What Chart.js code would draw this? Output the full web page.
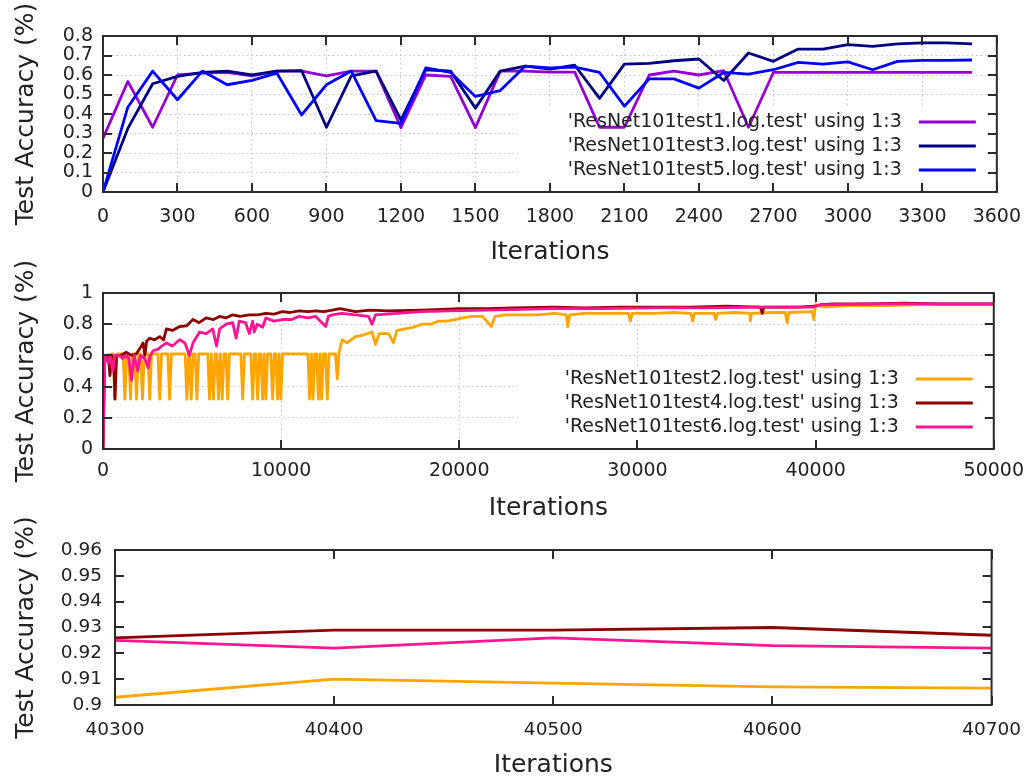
<!DOCTYPE html>
<html>
<head>
<meta charset="utf-8">
<script src="https://cdn.jsdelivr.net/npm/chart.js@4.4.1/dist/chart.umd.min.js"></script>
<style>
  body { margin: 0; background: #fff; overflow: hidden; }
  canvas { position: absolute; left: 0; }
</style>
</head>
<body>
<canvas id="c1" width="1035" height="268" style="top:0px"></canvas>
<canvas id="c2" width="1035" height="273" style="top:250px"></canvas>
<canvas id="c3" width="1035" height="282" style="top:500px"></canvas>
<script>
// ---- top panel: tests 1/3/5, one test every 100 iterations ----
const itersTop = [0,100,200,300,400,500,600,700,800,900,1000,1100,1200,1300,1400,1500,1600,1700,1800,
                  1900,2000,2100,2200,2300,2400,2500,2600,2700,2800,2900,3000,3100,3200,3300,3400,3500];
const test1Acc = [0.275,0.567,0.332,0.60,0.61,0.613,0.595,0.62,0.62,0.596,0.62,0.62,0.33,0.60,0.593,0.33,0.62,0.62,0.615,
                  0.615,0.332,0.332,0.60,0.62,0.60,0.622,0.332,0.613,0.613,0.613,0.613,0.613,0.613,0.613,0.613,0.613];
const test3Acc = [0,0.326,0.555,0.593,0.613,0.62,0.60,0.62,0.622,0.332,0.596,0.62,0.37,0.627,0.62,0.43,0.62,0.645,0.63,
                  0.65,0.48,0.656,0.66,0.673,0.682,0.572,0.713,0.67,0.733,0.733,0.756,0.747,0.76,0.765,0.765,0.76];
const test5Acc = [0,0.435,0.62,0.473,0.62,0.55,0.572,0.61,0.395,0.55,0.62,0.366,0.352,0.636,0.613,0.49,0.52,0.645,0.636,
                  0.64,0.613,0.44,0.58,0.58,0.533,0.613,0.605,0.627,0.665,0.656,0.667,0.627,0.67,0.675,0.675,0.677];

// ---- middle panel: tests 2/4/6 over the full 50000 iterations ----
const test2Iter = [0,100,570,670,770,1130,1230,1330,1445,1545,1645,1780,1880,1980,2115,2215,2315,2525,2625,2725,
  3085,3185,3285,3640,3740,3840,4610,4710,4810,4850,4950,5050,5170,5270,5370,5880,5980,6080,6100,6200,6300,
  6380,6480,6580,6590,6690,6790,6900,7000,7100,7740,7840,7940,8300,8400,8500,8580,8680,8780,8860,8960,9050,
  9140,9240,9420,9520,9620,9700,9800,9890,9980,10080,11500,11600,11700,11790,11890,11990,12090,12180,12270,
  12370,12490,12590,12690,13050,13150,13250,13430,13700,14170,14600,15100,15300,15500,16030,16300,16500,
  16960,17400,17900,18400,18830,19300,19760,20200,20690,21300,21800,22000,22600,23480,24400,25340,26000,
  26090,26200,27000,28000,29500,29600,29700,31000,32000,33000,33100,33200,34300,34380,34500,35500,36300,
  36340,36400,37500,38300,38400,38500,39800,39900,40000,40400,41000,42000,44000,46000,48000,50000];
const test2Acc = [0,0.60,0.61,0.32,0.61,0.61,0.32,0.61,0.61,0.32,0.61,0.61,0.32,0.61,0.61,0.32,0.61,0.61,0.32,0.61,
  0.61,0.32,0.61,0.61,0.32,0.61,0.61,0.32,0.61,0.61,0.32,0.61,0.61,0.32,0.61,0.61,0.32,0.61,0.61,0.32,0.61,
  0.61,0.32,0.61,0.61,0.32,0.61,0.61,0.32,0.61,0.61,0.32,0.61,0.61,0.32,0.61,0.61,0.32,0.61,0.61,0.32,0.61,
  0.32,0.61,0.61,0.32,0.61,0.61,0.32,0.61,0.32,0.61,0.61,0.32,0.61,0.32,0.61,0.61,0.32,0.61,0.32,
  0.61,0.61,0.32,0.61,0.61,0.45,0.62,0.70,0.68,0.72,0.73,0.75,0.67,0.74,0.74,0.68,0.76,
  0.77,0.78,0.80,0.80,0.82,0.82,0.83,0.84,0.85,0.85,0.785,0.85,0.86,0.86,0.86,0.87,0.86,
  0.785,0.86,0.87,0.87,0.87,0.82,0.87,0.87,0.875,0.87,0.82,0.87,0.87,0.83,0.87,0.875,0.87,
  0.82,0.87,0.875,0.875,0.81,0.875,0.88,0.83,0.925,0.91,0.915,0.92,0.92,0.925,0.925,0.925];

const test4Iter = [0,100,300,390,500,600,670,760,1000,1300,1600,1880,2100,2250,2350,2450,2625,2900,3185,3400,
  3560,3900,4300,4700,5050,5400,5790,6200,6540,6900,7280,7700,8210,8700,9140,9600,10070,10500,11000,11500,
  11940,12400,12870,13300,14170,15000,16000,17900,19000,20000,21620,23000,25340,27000,29000,31000,33000,
  35000,36900,37000,37100,39000,40000,40300,41000,43000,45000,47000,50000];
const test4Acc = [0,0.60,0.60,0.47,0.60,0.58,0.32,0.60,0.60,0.62,0.60,0.61,0.65,0.68,0.60,0.69,0.71,0.70,0.72,0.70,
  0.77,0.76,0.785,0.79,0.83,0.81,0.84,0.83,0.85,0.84,0.86,0.85,0.86,0.86,0.87,0.865,0.88,0.875,0.886,0.88,
  0.886,0.88,0.89,0.90,0.88,0.89,0.885,0.89,0.895,0.90,0.90,0.905,0.91,0.905,0.91,0.91,0.91,
  0.915,0.91,0.87,0.91,0.91,0.915,0.926,0.93,0.93,0.935,0.93,0.93];

const test6Iter = [0,100,300,400,550,650,900,1100,1300,1450,1600,1750,1950,2100,2350,2530,2650,2810,3100,3300,
  3560,3900,4300,4600,4850,5050,5420,5800,6160,6370,6550,6910,7280,7470,7650,8000,8210,8400,8490,8650,8960,
  9140,9600,10070,10600,11000,11500,11940,12500,12650,12870,13400,14170,14900,15100,15300,16500,17900,
  19500,21620,23500,25340,28000,31000,34000,37000,39900,40000,40300,41000,43000,46000,50000];
const test6Acc = [0,0.60,0.55,0.60,0.50,0.60,0.60,0.58,0.60,0.58,0.44,0.60,0.50,0.60,0.58,0.52,0.60,0.63,0.64,0.66,
  0.68,0.66,0.70,0.68,0.60,0.68,0.75,0.74,0.77,0.66,0.77,0.80,0.81,0.71,0.82,0.81,0.74,0.82,0.75,0.80,0.78,
  0.84,0.82,0.83,0.83,0.85,0.84,0.85,0.785,0.85,0.86,0.87,0.86,0.85,0.80,0.86,0.87,0.88,
  0.885,0.89,0.895,0.90,0.90,0.905,0.905,0.91,0.91,0.915,0.925,0.925,0.93,0.93,0.93];

// ---- bottom panel: zoom on 40300..40700 ----
const zoomIter  = [40300, 40400, 40500, 40600, 40700];
const zoomTest2 = [0.903, 0.910, 0.9085, 0.907, 0.9065];
const zoomTest4 = [0.926, 0.929, 0.929, 0.930, 0.927];
const zoomTest6 = [0.925, 0.922, 0.926, 0.923, 0.922];

const FONT = 'DejaVu Sans';
const TXT = '#222';

function pts(xs, ys) {
    return xs.map((x, i) => ({x: x, y: ys[i]}));
}
function fmt(v) {
    return String(+v.toFixed(4));
}

// gnuplot look: closed frame, inward mirrored ticks, opaque key
const gnuFrame = {
    id: 'gnuFrame',
    beforeDatasetsDraw(chart, args, opts) {
        if (!opts.key) return;
        const a = chart.chartArea, ctx = chart.ctx;
        ctx.save();
        ctx.fillStyle = '#fff';
        ctx.fillRect(a.left + opts.key.left, a.bottom - opts.key.top, a.right - a.left - opts.key.left - 2, opts.key.top - 2);
        ctx.restore();
    },
    afterDatasetsDraw(chart, args, opts) {
        if (!opts.key) return;
        const a = chart.chartArea, ctx = chart.ctx;
        ctx.save();
        ctx.font = opts.key.size + 'px "' + FONT + '"';
        ctx.textAlign = 'right';
        ctx.textBaseline = 'middle';
        chart.data.datasets.forEach((ds, i) => {
            const y = a.bottom - opts.key.rows[i];
            ctx.fillStyle = TXT;
            ctx.fillText(ds.label, a.right - 95, y);
            ctx.strokeStyle = ds.borderColor;
            ctx.lineWidth = 3;
            ctx.beginPath();
            ctx.moveTo(a.right - 78, y);
            ctx.lineTo(a.right - 21, y);
            ctx.stroke();
        });
        ctx.restore();
    },
    afterDraw(chart, args, opts) {
        const a = chart.chartArea, ctx = chart.ctx;
        const L = 9;
        ctx.save();
        ctx.strokeStyle = '#2b2b2b';
        ctx.lineWidth = 2;
        ctx.beginPath();
        chart.scales.x.ticks.forEach(t => {
            const px = Math.round(chart.scales.x.getPixelForValue(t.value));
            ctx.moveTo(px, a.bottom); ctx.lineTo(px, a.bottom - L);
            ctx.moveTo(px, a.top); ctx.lineTo(px, a.top + L);
        });
        chart.scales.y.ticks.forEach(t => {
            const py = Math.round(chart.scales.y.getPixelForValue(t.value));
            ctx.moveTo(a.left, py); ctx.lineTo(a.left + L, py);
            ctx.moveTo(a.right, py); ctx.lineTo(a.right - L, py);
        });
        ctx.stroke();
        ctx.strokeRect(a.left, a.top, a.right - a.left, a.bottom - a.top);
        ctx.restore();
    }
};

function line(label, data, color, order) {
    return {
        label: label, data: data, borderColor: color, backgroundColor: color,
        borderWidth: 2.8, pointRadius: 0, tension: 0, fill: false,
        borderJoinStyle: 'round', order: order
    };
}

function makeChart(id, cfg) {
    const gridOn = cfg.grid;
    const grid = {display: gridOn, drawTicks: false, color: '#c4c4c4', lineWidth: 1};
    const border = {display: false, dash: [1.5, 3]};
    return new Chart(document.getElementById(id), {
        type: 'line',
        data: {datasets: cfg.datasets},
        options: {
            responsive: false,
            animation: false,
            devicePixelRatio: 1,
            layout: {padding: {top: cfg.top, right: 37, bottom: 0, left: 0}},
            plugins: {
                legend: {display: false},
                tooltip: {enabled: false},
                gnuFrame: {key: cfg.key}
            },
            scales: {
                x: {
                    type: 'linear', min: cfg.xMin, max: cfg.xMax,
                    grid: grid, border: border,
                    afterFit: s => { s.height = cfg.xHeight; },
                    ticks: {stepSize: cfg.xStep, padding: cfg.xPad, maxRotation: 0, autoSkip: false,
                            color: TXT, font: {family: FONT, size: cfg.tickSize}, callback: fmt},
                    title: {display: true, text: 'Iterations', color: TXT,
                            font: {family: FONT, size: 25}, padding: {top: 0, bottom: cfg.titlePad}}
                },
                y: {
                    min: cfg.yMin, max: cfg.yMax,
                    grid: grid, border: border,
                    afterFit: s => { s.width = cfg.yWidth; },
                    ticks: {stepSize: cfg.yStep, padding: cfg.yPad, autoSkip: false,
                            color: TXT, font: {family: FONT, size: cfg.tickSize}, callback: fmt},
                    title: {display: true, text: 'Test Accuracy (%)', color: TXT,
                            font: {family: FONT, size: 25}, padding: {top: 11, bottom: 0}}
                }
            }
        },
        plugins: [gnuFrame]
    });
}

makeChart('c1', {
    datasets: [
        line("'ResNet101test1.log.test' using 1:3", pts(itersTop, test1Acc), '#9400d3', 3),
        line("'ResNet101test3.log.test' using 1:3", pts(itersTop, test3Acc), '#000080', 2),
        line("'ResNet101test5.log.test' using 1:3", pts(itersTop, test5Acc), '#0000ff', 1)
    ],
    grid: true, top: 36, xHeight: 76, xPad: 14, titlePad: 1, yWidth: 103, yPad: 10, tickSize: 19,
    xMin: 0, xMax: 3600, xStep: 300, yMin: 0, yMax: 0.8, yStep: 0.1,
    key: {left: 415, top: 86, rows: [70, 46, 22], size: 19}
});

makeChart('c2', {
    datasets: [
        line("'ResNet101test2.log.test' using 1:3", pts(test2Iter, test2Acc), '#ffa500', 3),
        line("'ResNet101test4.log.test' using 1:3", pts(test4Iter, test4Acc), '#8b0000', 2),
        line("'ResNet101test6.log.test' using 1:3", pts(test6Iter, test6Acc), '#ff1493', 1)
    ],
    grid: true, top: 43, xHeight: 74, xPad: 11, titlePad: 0, yWidth: 103, yPad: 10, tickSize: 19,
    xMin: 0, xMax: 50000, xStep: 10000, yMin: 0, yMax: 1, yStep: 0.2,
    key: {left: 415, top: 82, rows: [70, 46, 22], size: 19}
});

makeChart('c3', {
    datasets: [
        line('test2', pts(zoomIter, zoomTest2), '#ffa500', 3),
        line('test4', pts(zoomIter, zoomTest4), '#8b0000', 2),
        line('test6', pts(zoomIter, zoomTest6), '#ff1493', 1)
    ],
    grid: false, top: 50, xHeight: 77, xPad: 14, titlePad: 2, yWidth: 115, yPad: 13, tickSize: 18.5,
    xMin: 40300, xMax: 40700, xStep: 100, yMin: 0.9, yMax: 0.96, yStep: 0.01,
    key: null
});
</script>
</body>
</html>
